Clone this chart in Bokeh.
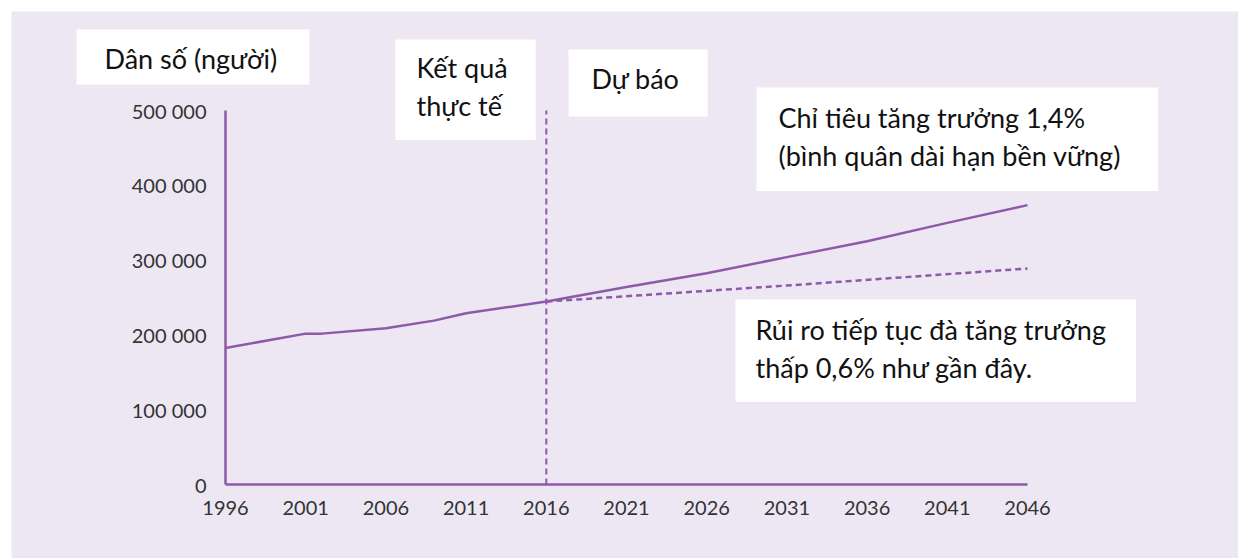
from bokeh.plotting import figure
from bokeh.models import Range1d, FixedTicker, Label
from bokeh.embed import file_html
from bokeh.resources import INLINE

# ---- data ----
years_actual = [1996, 2001, 2002, 2006, 2009, 2011, 2016]
pop_actual = [182500, 201700, 201700, 208800, 219100, 228900, 244600]

years_target = [2016, 2021, 2026, 2031, 2036, 2041, 2046]
pop_target = [244600, 264000, 282500, 304000, 325300, 349800, 373500]

years_risk = [2016, 2031, 2046]
pop_risk = [244600, 266000, 288800]

forecast_start = 2016

x_ticks = [1996, 2001, 2006, 2011, 2016, 2021, 2026, 2031, 2036, 2041, 2046]
y_ticks = [0, 100000, 200000, 300000, 400000, 500000]
y_tick_labels = ["0", "100 000", "200 000", "300 000", "400 000", "500 000"]

y_title = "Dân số (người)"
label_actual = "Kết quả\nthực tế"
label_forecast = "Dự báo"
label_target = "Chỉ tiêu tăng trưởng 1,4%\n(bình quân dài hạn bền vững)"
label_risk = "Rủi ro tiếp tục đà tăng trưởng\nthấp 0,6% như gần đây."

# ---- style ----
BG = "#ede7f3"
PURPLE = "#8c5aa8"
TXT = "#111111"
TICK = "#333333"
FONT_BOX = "Lato"
FONT_TICK = "Lato"

W, H = 1227, 547
OX, OY = 11, 11                 # page offset of the figure
AX_L, AX_R = 225, 1027          # page x of first / last year
AX_T, AX_B = 110, 484           # page y of top / bottom value
x0, x1 = 1996, 2046
y0, y1 = 0, 500000

sx = (x1 - x0) / (AX_R - AX_L)  # data per pixel
sy = (y1 - y0) / (AX_B - AX_T)
xr = Range1d(x0 - (AX_L - OX) * sx, x0 + (OX + W - AX_L) * sx)
yr = Range1d(y0 - (OY + H - AX_B) * sy, y0 + (AX_B - OY) * sy)

p = figure(width=W, height=H, output_backend="svg", toolbar_location=None,
           x_range=xr, y_range=yr,
           min_border=0, min_border_left=0, min_border_right=0,
           min_border_top=0, min_border_bottom=0,
           background_fill_color=BG, border_fill_color=BG,
           outline_line_color=None)
p.margin = (OY, 0, 0, OX)
p.grid.visible = False

for ax in (p.xaxis[0], p.yaxis[0]):
    ax.axis_line_color = PURPLE
    ax.axis_line_width = 2.5
    ax.major_tick_line_color = None
    ax.minor_tick_line_color = None
    ax.major_label_text_font = FONT_TICK
    ax.major_label_text_font_size = "20px"
    ax.major_label_text_color = TICK

p.xaxis.fixed_location = y0
p.yaxis.fixed_location = x0
p.xaxis.bounds = (x0, x1)
p.yaxis.bounds = (y0, y1)
p.xaxis.ticker = FixedTicker(ticks=x_ticks)
p.yaxis.ticker = FixedTicker(ticks=y_ticks)
p.yaxis.major_label_overrides = {v: s for v, s in zip(y_ticks, y_tick_labels)}
p.xaxis.major_label_standoff = 10
p.yaxis.major_label_standoff = 13

# vertical dashed separator
p.line([forecast_start, forecast_start], [y0, y1], line_color=PURPLE,
       line_width=2, line_dash="6 4")

p.line(years_actual, pop_actual, line_color=PURPLE, line_width=2.5)
p.line(years_target, pop_target, line_color=PURPLE, line_width=2.5)
p.line(years_risk, pop_risk, line_color=PURPLE, line_width=2.5, line_dash="6 4")

# helpers converting page pixel positions to data coordinates (annotation placement)
def dx(px):
    return x0 + (px - AX_L) * sx

def dy(py):
    return y0 + (AX_B - py) * sy

def box(text, bx, by, pl, pr, pt, pb):
    lab = Label(x=dx(bx), y=dy(by), text=text, anchor="top_left",
                text_font=FONT_BOX, text_font_size="27px", text_color=TXT,
                text_line_height=1.17,
                background_fill_color="white", border_line_color=None,
                padding=dict(left=pl, right=pr, top=pt, bottom=pb))
    p.add_layout(lab)

box(y_title, 76, 29, 28, 32, 12, 10)
box(label_actual, 395, 39, 21, 28, 11, 18)
box(label_forecast, 568, 49, 23, 28, 12, 22)
box(label_target, 756, 87, 22, 37, 13, 19)
box(label_risk, 735, 299, 20, 30, 13, 18)

open("out.html", "w").write(file_html(p, INLINE))
